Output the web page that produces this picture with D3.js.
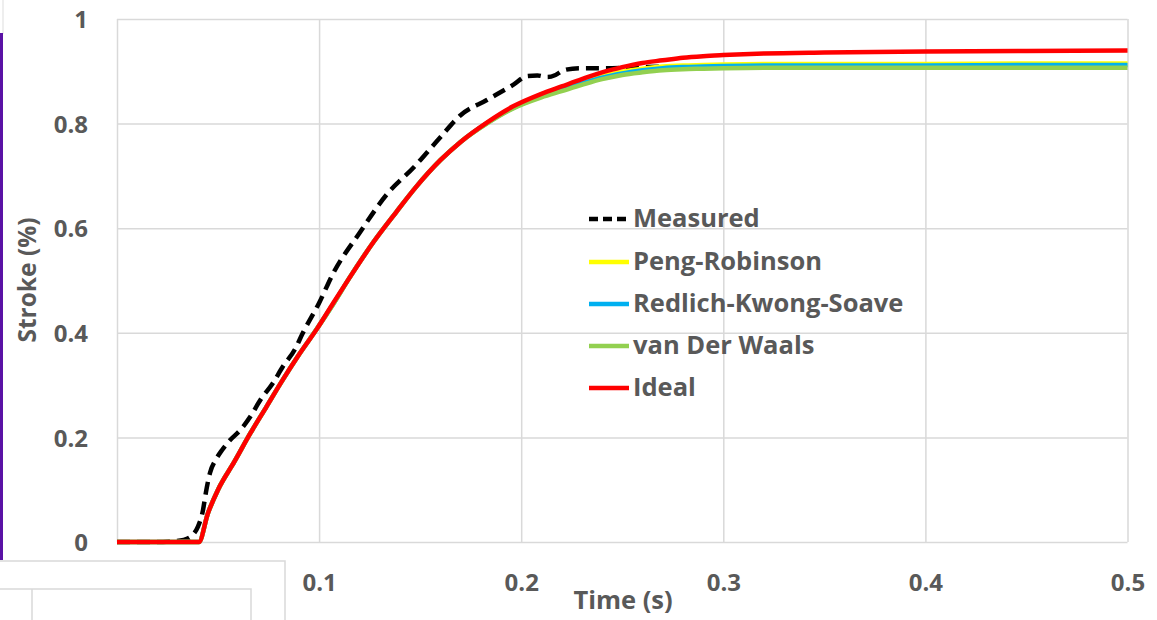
<!DOCTYPE html>
<html>
<head>
<meta charset="utf-8">
<script src="https://cdn.jsdelivr.net/npm/d3@7"></script>
<style>
  html, body { margin: 0; padding: 0; background: #fff; }
  svg { display: block; }
  text { font-family: "Open Sans", "DejaVu Sans", sans-serif; font-weight: 700; fill: #595959; }
</style>
</head>
<body>
<svg id="chart" width="1157" height="620"></svg>
<script>
// ---- data ----
const seriesNames = ["Measured", "Peng-Robinson", "Redlich-Kwong-Soave", "van Der Waals", "Ideal"];
const seriesColors = ["#000000", "#ffff00", "#00b0f0", "#92d050", "#ff0000"];

const measuredTime = [0, 0.02, 0.026, 0.033, 0.037, 0.040, 0.0425, 0.044, 0.046, 0.049, 0.052, 0.056, 0.061, 0.066, 0.071, 0.077, 0.082, 0.088, 0.092, 0.1, 0.107, 0.120, 0.134, 0.147, 0.160, 0.170, 0.183, 0.196, 0.203, 0.208, 0.213, 0.217, 0.221, 0.229, 0.245, 0.262, 0.275];
const measuredValues = [0, 0, 0.001, 0.004, 0.012, 0.029, 0.06, 0.095, 0.132, 0.158, 0.176, 0.195, 0.214, 0.240, 0.272, 0.303, 0.335, 0.368, 0.400, 0.457, 0.514, 0.591, 0.667, 0.717, 0.774, 0.816, 0.845, 0.874, 0.891, 0.892, 0.889, 0.893, 0.902, 0.906, 0.906, 0.908, 0.909];

const modelTime = [0, 0.02, 0.0405, 0.045, 0.05, 0.058, 0.066, 0.074, 0.082, 0.09, 0.099, 0.107, 0.115, 0.127, 0.138, 0.148, 0.16, 0.17, 0.183, 0.196, 0.21, 0.22, 0.23, 0.24, 0.25, 0.26, 0.27, 0.28, 0.29, 0.30, 0.32, 0.35, 0.4, 0.45, 0.5];
const pengRobinson = [0, 0, 0, 0.055, 0.100, 0.153, 0.208, 0.259, 0.310, 0.358, 0.408, 0.455, 0.505, 0.574, 0.630, 0.679, 0.730, 0.765, 0.801, 0.831, 0.853, 0.866, 0.879, 0.890, 0.899, 0.905, 0.909, 0.911, 0.912, 0.913, 0.914, 0.914, 0.914, 0.915, 0.915];
const redlichKwongSoave = [0, 0, 0, 0.055, 0.100, 0.153, 0.208, 0.259, 0.310, 0.358, 0.408, 0.455, 0.505, 0.574, 0.630, 0.679, 0.730, 0.765, 0.801, 0.830, 0.852, 0.865, 0.877, 0.888, 0.896, 0.902, 0.906, 0.908, 0.909, 0.910, 0.911, 0.911, 0.911, 0.912, 0.912];
const vanDerWaals = [0, 0, 0, 0.055, 0.100, 0.153, 0.208, 0.259, 0.310, 0.358, 0.408, 0.455, 0.505, 0.574, 0.630, 0.679, 0.730, 0.765, 0.800, 0.829, 0.850, 0.862, 0.874, 0.885, 0.893, 0.898, 0.902, 0.904, 0.905, 0.906, 0.907, 0.907, 0.907, 0.907, 0.907];
const ideal = [0, 0, 0, 0.055, 0.100, 0.153, 0.208, 0.259, 0.310, 0.358, 0.408, 0.457, 0.505, 0.574, 0.630, 0.679, 0.730, 0.765, 0.802, 0.833, 0.857, 0.871, 0.885, 0.898, 0.908, 0.916, 0.921, 0.926, 0.929, 0.931, 0.934, 0.936, 0.938, 0.939, 0.940];

const xTicks = [0, 0.1, 0.2, 0.3, 0.4, 0.5];
const xTickLabels = ["0", "0.1", "0.2", "0.3", "0.4", "0.5"];
const yTicks = [0, 0.2, 0.4, 0.6, 0.8, 1];
const yTickLabels = ["0", "0.2", "0.4", "0.6", "0.8", "1"];

// ---- chart ----
const svg = d3.select("#chart");
const x = d3.scaleLinear().domain([0, 0.5]).range([117, 1127.5]);
const y = d3.scaleLinear().domain([0, 1]).range([542, 19]);

// decorations (left purple bar, faint line)
svg.append("line").attr("x1", 3).attr("x2", 3).attr("y1", 0).attr("y2", 34)
  .attr("stroke", "#e3e3e3").attr("stroke-width", 1.2);
svg.append("rect").attr("x", 0).attr("y", 33).attr("width", 3).attr("height", 527)
  .attr("fill", "#5a12a5");

// gridlines via axes
const gx = svg.append("g").attr("transform", `translate(0,${y(0)})`)
  .call(d3.axisBottom(x).tickValues(xTicks).tickSize(-(y(0) - y(1))).tickFormat(""));
gx.select(".domain").remove();
gx.selectAll(".tick line").attr("stroke", "#d9d9d9").attr("stroke-width", 1.5);

const gy = svg.append("g").attr("transform", `translate(${x(0)},0)`)
  .call(d3.axisLeft(y).tickValues(yTicks).tickSize(-(x(0.5) - x(0))).tickFormat(""));
gy.select(".domain").remove();
gy.selectAll(".tick line").attr("stroke", "#d9d9d9").attr("stroke-width", 1.5);

// tick labels
const yl = svg.append("g").attr("transform", `translate(88,0)`)
  .call(d3.axisLeft(y).tickValues(yTicks).tickSize(0).tickPadding(0)
    .tickFormat((d, i) => yTickLabels[i]));
yl.select(".domain").remove();
yl.selectAll("text").style("font-size", "24px").attr("fill", "#595959")
  .attr("dy", "0.36em").attr("font-family", null);

const xl = svg.append("g").attr("transform", `translate(0,582)`)
  .call(d3.axisBottom(x).tickValues(xTicks).tickSize(0).tickPadding(0)
    .tickFormat((d, i) => xTickLabels[i]));
xl.select(".domain").remove();
xl.selectAll("text").style("font-size", "24px").attr("fill", "#595959")
  .attr("y", 0).attr("dy", "0.36em").attr("font-family", null);

// axis titles
svg.append("text").attr("transform", "translate(27,280) rotate(-90)")
  .attr("text-anchor", "middle").attr("dy", "0.36em").style("font-size", "24.5px").text("Stroke (%)");
svg.append("text").attr("x", 623).attr("y", 600)
  .attr("text-anchor", "middle").attr("dy", "0.36em").style("font-size", "25.5px").text("Time (s)");

// lines
const line = d3.line().x(d => x(d[0])).y(d => y(d[1])).curve(d3.curveMonotoneX);
const seriesData = [
  d3.zip(measuredTime, measuredValues),
  d3.zip(modelTime, pengRobinson),
  d3.zip(modelTime, redlichKwongSoave),
  d3.zip(modelTime, vanDerWaals),
  d3.zip(modelTime, ideal)
];
seriesData.forEach((data, i) => {
  svg.append("path").datum(data)
    .attr("d", line)
    .attr("fill", "none")
    .attr("stroke", seriesColors[i])
    .attr("stroke-width", i === 0 ? 4.5 : 4.5)
    .attr("stroke-linejoin", "round")
    .attr("stroke-dasharray", i === 0 ? "13,7" : null);
});

// legend
const legendY = [218, 261, 303, 345, 387];
const lg = svg.append("g");
seriesNames.forEach((name, i) => {
  lg.append("line").attr("x1", 589).attr("x2", 629)
    .attr("y1", legendY[i] + 1).attr("y2", legendY[i] + 1)
    .attr("stroke", seriesColors[i]).attr("stroke-width", 4.5)
    .attr("stroke-dasharray", i === 0 ? "9,5" : null);
  lg.append("text").attr("x", 633).attr("y", legendY[i]).attr("dy", "0.36em")
    .style("font-size", "25.5px").text(name);
});

// overlapping white box at bottom left
svg.append("rect").attr("x", 0).attr("y", 561).attr("width", 285).attr("height", 59).attr("fill", "#fff");
const boxStroke = "#d9d9d9";
svg.append("path").attr("d", "M0,561 H285 V620").attr("fill", "none").attr("stroke", boxStroke).attr("stroke-width", 1.5);
svg.append("path").attr("d", "M0,589 H251 V620 M32,589 V620").attr("fill", "none").attr("stroke", boxStroke).attr("stroke-width", 1.5);
</script>
</body>
</html>
